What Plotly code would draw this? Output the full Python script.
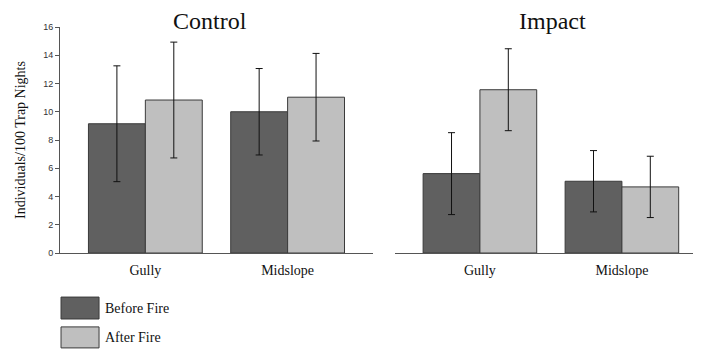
import plotly.graph_objects as go

categories = ["Gully", "Midslope"]
control_before = [9.15, 10.0]
control_before_err = [4.1, 3.06]
control_after = [10.83, 11.03]
control_after_err = [4.1, 3.1]
impact_before = [5.62, 5.08]
impact_before_err = [2.9, 2.17]
impact_after = [11.56, 4.68]
impact_after_err = [2.9, 2.17]
y_ticks = [0, 2, 4, 6, 8, 10, 12, 14, 16]
series_names = ["Before Fire", "After Fire"]

DARK = "#606060"
LIGHT = "#bfbfbf"
OUTLINE = "#3a3a3a"
SERIF = "Liberation Serif"

fig = go.Figure()

def add_bar(y, err, color, name, xa, ya):
    fig.add_trace(go.Bar(
        x=categories, y=y, name=name, xaxis=xa, yaxis=ya,
        marker=dict(color=color, line=dict(color=OUTLINE, width=1)),
        error_y=dict(type="data", array=err, visible=True, color="#111111",
                     thickness=1, width=3.5),
        showlegend=False,
    ))

add_bar(control_before, control_before_err, DARK, series_names[0], "x", "y")
add_bar(control_after, control_after_err, LIGHT, series_names[1], "x", "y")
add_bar(impact_before, impact_before_err, DARK, series_names[0], "x2", "y2")
add_bar(impact_after, impact_after_err, LIGHT, series_names[1], "x2", "y2")

axis_line = "#555555"
fig.update_layout(
    width=701, height=353,
    margin=dict(l=52, r=9, t=19, b=108),
    paper_bgcolor="white", plot_bgcolor="white",
    barmode="group", bargap=0.2, bargroupgap=0,
    xaxis=dict(domain=[0, 0.489], range=[-0.6, 1.6], showline=True, automargin=False,
               linecolor=axis_line, linewidth=1, ticks="", showgrid=False,
               ticklabelstandoff=4,
               tickfont=dict(family=SERIF, size=14, color="#111"), anchor="y"),
    yaxis=dict(range=[0, 16], tickvals=y_ticks, showline=True, automargin=False,
               linecolor=axis_line, linewidth=1, ticks="outside", ticklen=4,
               tickcolor=axis_line, showgrid=False, zeroline=False,
               tickfont=dict(family="Liberation Sans", size=9, color="#333"),
               title=dict(text="Individuals/100 Trap Nights",
                          font=dict(family=SERIF, size=14, color="#111"), standoff=14),
               anchor="x"),
    xaxis2=dict(domain=[0.523, 1], range=[-0.6, 1.55], showline=True, automargin=False,
                linecolor=axis_line, linewidth=1, ticks="", showgrid=False,
                ticklabelstandoff=4,
                tickfont=dict(family=SERIF, size=14, color="#111"), anchor="y2"),
    yaxis2=dict(range=[0, 16], visible=False, anchor="x2", showgrid=False,
                zeroline=False, automargin=False),
)

fig.add_annotation(text="Control", x=0.234, y=1.0, xref="paper", yref="paper",
                   xanchor="center", yanchor="bottom", yshift=-9, showarrow=False,
                   font=dict(family=SERIF, size=24, color="#111"))
fig.add_annotation(text="Impact", x=0.770, y=1.0, xref="paper", yref="paper",
                   xanchor="center", yanchor="bottom", yshift=-9, showarrow=False,
                   font=dict(family=SERIF, size=24, color="#111"))

# legend swatches
legend_rows = [(series_names[0], DARK, -0.195, -0.292), (series_names[1], LIGHT, -0.327, -0.420)]
for name, color, y0, y1 in legend_rows:
    fig.add_shape(type="rect", xref="paper", yref="paper", x0=0.0016, x1=0.061,
                  y0=y1, y1=y0, fillcolor=color, line=dict(color=OUTLINE, width=1))
    fig.add_annotation(text=name, x=0.067, y=(y0 + y1) / 2, xref="paper", yref="paper",
                       xanchor="left", yanchor="middle", showarrow=False,
                       font=dict(family=SERIF, size=14, color="#111"))

fig.write_html("out.html")
